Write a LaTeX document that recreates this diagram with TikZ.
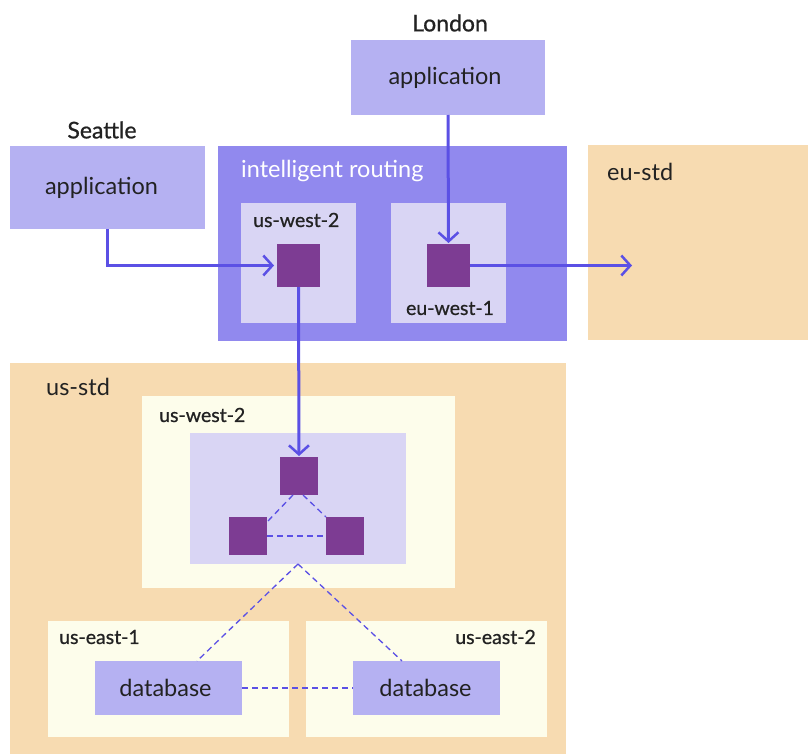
\documentclass[tikz,border=0pt]{standalone}
\usepackage{fontspec}
\setmainfont{Lato}
\newfontfamily\semi[FakeBold=0.8]{Lato}
\usetikzlibrary{arrows.meta,calc}

\definecolor{appfill}{HTML}{B5B1F2}
\definecolor{routefill}{HTML}{9189EE}
\definecolor{zonefill}{HTML}{D9D5F4}
\definecolor{nodefill}{HTML}{7D3C93}
\definecolor{stdfill}{HTML}{F7DBB1}
\definecolor{regionfill}{HTML}{FDFDEB}
\definecolor{linkcol}{HTML}{5B50E5}
\definecolor{ink}{HTML}{222222}

\tikzset{
  area/.style={fill=#1, draw=none, inner sep=0pt, outer sep=0pt, anchor=north west},
  sq/.style={fill=nodefill, draw=none, inner sep=0pt, outer sep=0pt, anchor=north west},
  title/.style={text=ink, font=\fontsize{23.5}{28}\selectfont, inner sep=0pt},
  tag/.style={text=ink, font=\semi\fontsize{19.5}{23}\selectfont, inner sep=0pt},
  city/.style={text=ink, font=\semi\fontsize{23}{27}\selectfont, inner sep=0pt},
  flow/.style={draw=linkcol, line width=3pt,
    -{Straight Barb[length=9pt,width=20pt,line width=2.5pt]}},
  peer/.style={draw=linkcol, line width=1.3pt, dash pattern=on 6pt off 4pt},
}

\begin{document}
\begin{tikzpicture}[x=1pt,y=-1pt]
\useasboundingbox (0,0) rectangle (808,754);

% clients
\node[area=appfill, minimum width=195pt, minimum height=83pt] (sa) at (10,146) {};
\node[title] (sat) at ([xshift=-6pt]sa.center) {application};
\node[city] (seattle) at (102,130) {Seattle};
\node[area=appfill, minimum width=194pt, minimum height=75pt] (la) at (351,40) {};
\node[title] (lat) at ([xshift=-3pt]la.center) {application};
\node[city] (london) at (450,23) {London};

% routing layer
\node[area=routefill, minimum width=349pt, minimum height=195pt] (route) at (218,146) {};
\node[title, text=white, anchor=west] (routet) at (241,171) {intelligent routing};
\node[area=zonefill, minimum width=115pt, minimum height=120pt] (rz1) at (241,203) {};
\node[tag, anchor=west] (rz1t) at (253,220) {us-west-2};
\node[area=zonefill, minimum width=115pt, minimum height=120pt] (rz2) at (391,203) {};
\node[tag] (rz2t) at (450,308) {eu-west-1};
\node[sq, minimum width=43pt, minimum height=43pt] (rw) at (277,244) {};
\node[sq, minimum width=43pt, minimum height=43pt] (ew) at (427,244) {};

% eu standard
\node[area=stdfill, minimum width=220pt, minimum height=195pt] (eu) at (588,145) {};
\node[title, anchor=west] (eut) at (607,172) {eu-std};
\coordinate (euin) at (632,265.5);

% us standard
\node[area=stdfill, minimum width=556pt, minimum height=391pt] (us) at (10,363) {};
\node[title, anchor=west] (ust) at (46,387) {us-std};
\node[area=regionfill, minimum width=313pt, minimum height=192pt] (usw) at (142,396) {};
\node[tag, anchor=west] (uswt) at (159,415) {us-west-2};
\node[area=zonefill, minimum width=216pt, minimum height=131pt] (cl) at (190,433) {};
\node[sq, minimum width=38pt, minimum height=38pt] (ts) at (280,457) {};
\node[sq, minimum width=38pt, minimum height=38pt] (ls) at (229,517) {};
\node[sq, minimum width=38pt, minimum height=38pt] (rs) at (326,517) {};

\node[area=regionfill, minimum width=241pt, minimum height=116pt] (ue1) at (48,621) {};
\node[tag, anchor=west] (ue1t) at (59,637) {us-east-1};
\node[area=regionfill, minimum width=241pt, minimum height=116pt] (ue2) at (306,621) {};
\node[tag, anchor=east] (ue2t) at (536,637) {us-east-2};
\node[area=appfill, minimum width=147pt, minimum height=54pt] (db1) at (95,661) {};
\node[title] (db1t) at ([xshift=-3pt]db1.center) {database};
\node[area=appfill, minimum width=147pt, minimum height=54pt] (db2) at (353,661) {};
\node[title] (db2t) at ([xshift=-1pt]db2.center) {database};

% replication links
\draw[peer] ([xshift=-6pt]ts.south) -- ([yshift=-5pt]ls.north east);
\draw[peer] ([xshift=4pt]ts.south) -- (rs.north west);
\draw[peer] (ls.east) -- (rs.west);
\draw[peer] (cl.south) -- ([xshift=28.5pt]db1.north);
\draw[peer] (cl.south) -- ([xshift=-24.5pt]db2.north);
\draw[peer] (db1.east) -- (db2.west);

% request flows
\draw[flow, shorten >=3pt] (sa.south) |- (rw.west);
\draw[flow, shorten >=1pt] (la.south) -- (ew.north);
\draw[flow] (ew.east) -- (euin);
\draw[flow, shorten >=1pt] (rw.south) -- (ts.north);
\end{tikzpicture}
\end{document}
